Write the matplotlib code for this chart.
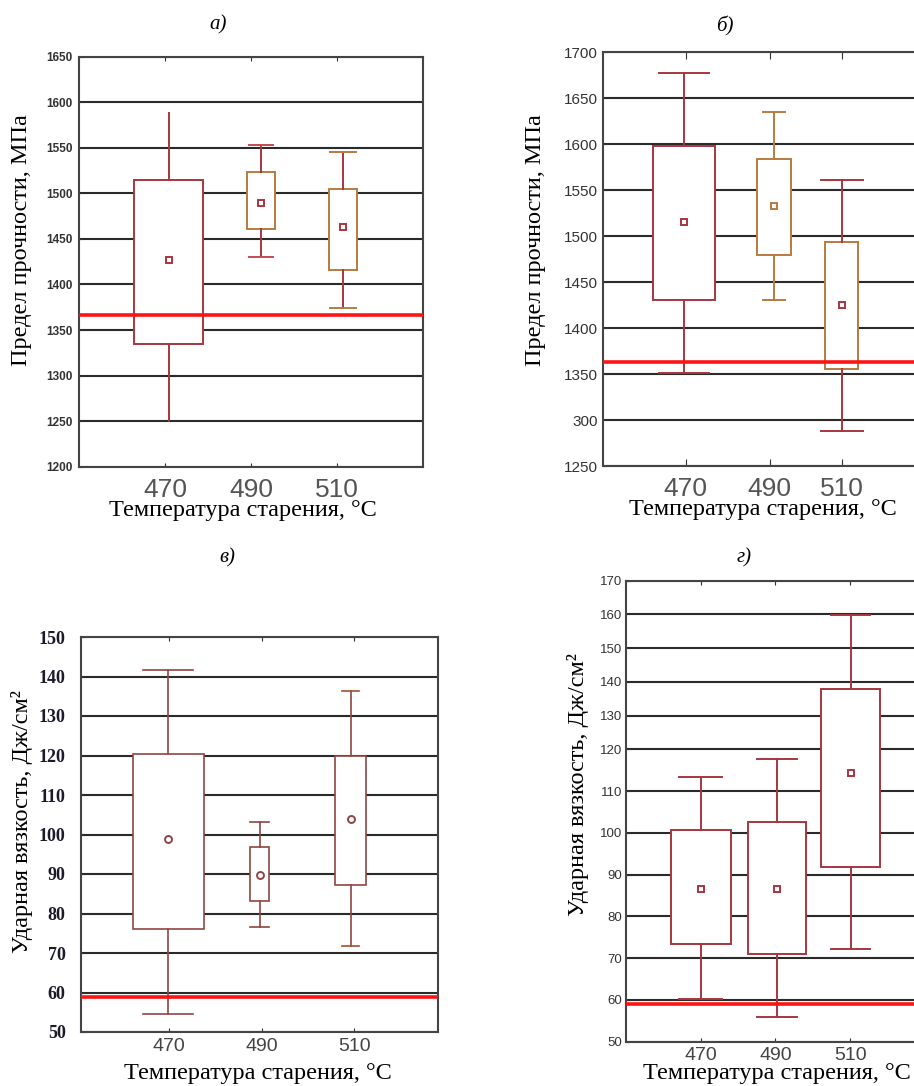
import numpy as np
import matplotlib
matplotlib.use("Agg")
import matplotlib.pyplot as plt

plt.rcParams['font.family'] = ['Liberation Serif', 'DejaVu Serif']

temps = ['470', '490', '510']

# а) предел прочности, серия 1
a_whislo = [1250, 1430, 1374]
a_q1 = [1335, 1461, 1416]
a_q3 = [1515, 1523, 1505]
a_whishi = [1588, 1553, 1545]
a_mean = [1427, 1489, 1463]
a_limit = 1366

# б) предел прочности, серия 2
b_whislo = [1351, 1431, 1288]
b_q1 = [1431, 1480, 1355]
b_q3 = [1598, 1584, 1494]
b_whishi = [1678, 1635, 1561]
b_mean = [1515, 1533, 1425]
b_limit = 1363
b_yticks = [1250, 1300, 1350, 1400, 1450, 1500, 1550, 1600, 1650, 1700]
b_yticklabels = ['1250', '300', '1350', '1400', '1450', '1500', '1550', '1600', '1650', '1700']

# в) ударная вязкость, серия 1
v_whislo = [54.6, 76.5, 71.8]
v_q1 = [76.1, 83.2, 87.2]
v_q3 = [120.3, 96.9, 119.9]
v_whishi = [141.6, 103.2, 136.4]
v_mean = [98.9, 89.7, 103.9]
v_limit = 58.8

# г) ударная вязкость, серия 2
g_whislo = [60.3, 56.0, 72.2]
g_q1 = [73.3, 71.0, 91.7]
g_q3 = [100.6, 102.5, 137.8]
g_whishi = [113.4, 117.6, 159.8]
g_mean = [86.6, 86.5, 114.3]
g_limit = 59.1

RED = '#a8363f'
ORANGE = '#b97a3e'
BROWN = '#8e4644'

xlabel = 'Температура старения, °C'
fig = plt.figure(figsize=(9.14, 10.86), dpi=100)
W, H = 914.0, 1086.0


def add_axes_px(left, top, width, height):
    return fig.add_axes([left / W, 1 - (top + height) / H, width / W, height / H])


def draw_panel(ax, whislo, q1, q3, whishi, means, limit, positions, widths, capwidths,
               box_colors, whisker_colors, cap_colors, marker='s', lw=1.4):
    stats = []
    for i in range(len(temps)):
        stats.append({'whislo': whislo[i], 'q1': q1[i], 'med': q1[i], 'q3': q3[i],
                      'whishi': whishi[i], 'mean': means[i], 'fliers': []})
    res = ax.bxp(stats, positions=positions, widths=widths, capwidths=capwidths,
                 patch_artist=True, showmeans=True, showfliers=False, manage_ticks=False,
                 medianprops=dict(linewidth=0),
                 boxprops=dict(facecolor='white', linewidth=lw),
                 whiskerprops=dict(linewidth=lw), capprops=dict(linewidth=lw),
                 meanprops=dict(marker=marker, markersize=5, markerfacecolor='white',
                                markeredgewidth=1.4), zorder=3)
    for i in range(len(temps)):
        res['boxes'][i].set_edgecolor(box_colors[i])
        for ln in res['whiskers'][2 * i:2 * i + 2]:
            ln.set_color(whisker_colors[i])
        for ln in res['caps'][2 * i:2 * i + 2]:
            ln.set_color(cap_colors[i])
        res['means'][i].set_markeredgecolor(whisker_colors[i])
    ax.axhline(limit, color='#ff1414', linewidth=2.6, zorder=5)
    ax.set_xlim(0, 4)
    ax.set_axisbelow(True)
    ax.yaxis.grid(True, color='#2a2a2a', linewidth=1.5)
    for s in ax.spines.values():
        s.set_color('#444444')
        s.set_linewidth(1.5)
    ax.tick_params(axis='both', direction='in', length=3, color='#333333',
                   top=True, right=False)


def style_labels(ax, ylabel, title, ylab_xy, xlab_xy, title_xy, label_size=17.5):
    ax.set_ylabel(ylabel, fontsize=label_size, va='center')
    ax.yaxis.set_label_coords(*ylab_xy)
    ax.set_xlabel(xlabel, fontsize=label_size, va='center')
    ax.xaxis.set_label_coords(*xlab_xy)
    ax.text(title_xy[0], title_xy[1], title, transform=ax.transAxes, fontsize=15,
            style='italic', ha='center', va='center')


# ---- а)
ax_a = add_axes_px(79.3, 56.7, 343.4, 410)
draw_panel(ax_a, a_whislo, a_q1, a_q3, a_whishi, a_mean, a_limit,
           positions=[1.04, 2.12, 3.07], widths=[0.8, 0.33, 0.33], capwidths=[0, 0.28, 0.30],
           box_colors=[RED, ORANGE, ORANGE], whisker_colors=[RED, RED, RED],
           cap_colors=[RED, '#c24c55', ORANGE])
ax_a.set_ylim(1200, 1650)
ax_a.set_yticks(np.arange(1200, 1651, 50))
ax_a.set_xticks([1, 2, 3])
ax_a.set_xticklabels(temps)
ax_a.tick_params(axis='y', pad=5, labelsize=8.5, labelcolor='#333333')
ax_a.tick_params(axis='x', pad=8, labelsize=19, labelcolor='#555555')
for t in ax_a.get_yticklabels():
    t.set_family('Liberation Sans')
    t.set_weight('bold')
for t in ax_a.get_xticklabels():
    t.set_family('Liberation Sans')
style_labels(ax_a, 'Предел прочности, МПа', 'а)', (-0.168, 0.553), (0.477, -0.106), (0.404, 1.077))

# ---- б)
ax_b = add_axes_px(603.3, 52.3, 320, 413.7)
draw_panel(ax_b, b_whislo, b_q1, b_q3, b_whishi, b_mean, b_limit,
           positions=[1.01, 2.13, 2.98], widths=[0.78, 0.42, 0.41], capwidths=[0.62, 0.28, 0.53],
           box_colors=[RED, ORANGE, ORANGE], whisker_colors=[RED, ORANGE, RED],
           cap_colors=[RED, ORANGE, RED])
ax_b.set_ylim(1250, 1700)
ax_b.set_yticks(b_yticks)
ax_b.set_yticklabels(b_yticklabels)
ax_b.set_xticks([1.03, 2.08, 2.98])
ax_b.set_xticklabels(temps)
ax_b.tick_params(axis='y', pad=4, labelsize=11, labelcolor='#333333')
ax_b.tick_params(axis='x', pad=8, labelsize=19, labelcolor='#555555', length=5)
for t in ax_b.get_yticklabels() + ax_b.get_xticklabels():
    t.set_family('Liberation Sans')
style_labels(ax_b, 'Предел прочности, МПа', 'б)', (-0.213, 0.546), (0.499, -0.106), (0.380, 1.062))

# ---- в)
ax_v = add_axes_px(81, 637, 357, 395)
draw_panel(ax_v, v_whislo, v_q1, v_q3, v_whishi, v_mean, v_limit,
           positions=[0.98, 2.0, 3.02], widths=[0.8, 0.22, 0.355], capwidths=[0.56, 0.22, 0.2],
           box_colors=[BROWN, BROWN, BROWN], whisker_colors=[BROWN, BROWN, BROWN],
           cap_colors=[BROWN, BROWN, '#a0522d'], marker='o', lw=1.2)
ax_v.set_ylim(50, 150)
ax_v.set_yticks(np.arange(50, 151, 10))
ax_v.set_xticks([0.985, 2.03, 3.06])
ax_v.set_xticklabels(temps)
ax_v.tick_params(axis='y', pad=11, labelsize=13, labelcolor='#1a1a2a')
ax_v.tick_params(axis='x', pad=4, labelsize=14, labelcolor='#444444')
for t in ax_v.get_yticklabels():
    t.set_weight('bold')
for t in ax_v.get_xticklabels():
    t.set_family('Liberation Sans')
style_labels(ax_v, 'Ударная вязкость, Дж/см²', 'в)', (-0.165, 0.532), (0.496, -0.104), (0.409, 1.20))

# ---- г)
ax_g = add_axes_px(626, 580.7, 298.8, 461)
# upper part of the original axis (above 120) is drawn compressed
k_top = 0.807


def g_forward(y):
    y = np.asarray(y, dtype=float)
    return np.where(y <= 120, y, 120 + (y - 120) * k_top)


def g_inverse(y):
    y = np.asarray(y, dtype=float)
    return np.where(y <= 120, y, 120 + (y - 120) / k_top)


ax_g.set_yscale('function', functions=(g_forward, g_inverse))
draw_panel(ax_g, g_whislo, g_q1, g_q3, g_whishi, g_mean, g_limit,
           positions=[1.0, 2.02, 3.01], widths=[0.8, 0.77, 0.79], capwidths=[0.58, 0.545, 0.52],
           box_colors=[RED, RED, RED], whisker_colors=[RED, RED, RED],
           cap_colors=[RED, RED, RED])
ax_g.set_ylim(50, 170)
ax_g.set_yticks(np.arange(50, 171, 10))
ax_g.set_yticklabels([str(v) for v in range(50, 171, 10)])
ax_g.minorticks_off()
ax_g.set_xticks([1, 2, 3])
ax_g.set_xticklabels(temps)
ax_g.tick_params(axis='y', pad=3, labelsize=9.5, labelcolor='#333333')
ax_g.tick_params(axis='x', pad=4, labelsize=14, labelcolor='#444444')
for t in ax_g.get_yticklabels() + ax_g.get_xticklabels():
    t.set_family('Liberation Sans')
style_labels(ax_g, 'Ударная вязкость, Дж/см²', 'г)', (-0.161, 0.557), (0.505, -0.068), (0.395, 1.049))

fig.savefig('out.png', dpi=100)
